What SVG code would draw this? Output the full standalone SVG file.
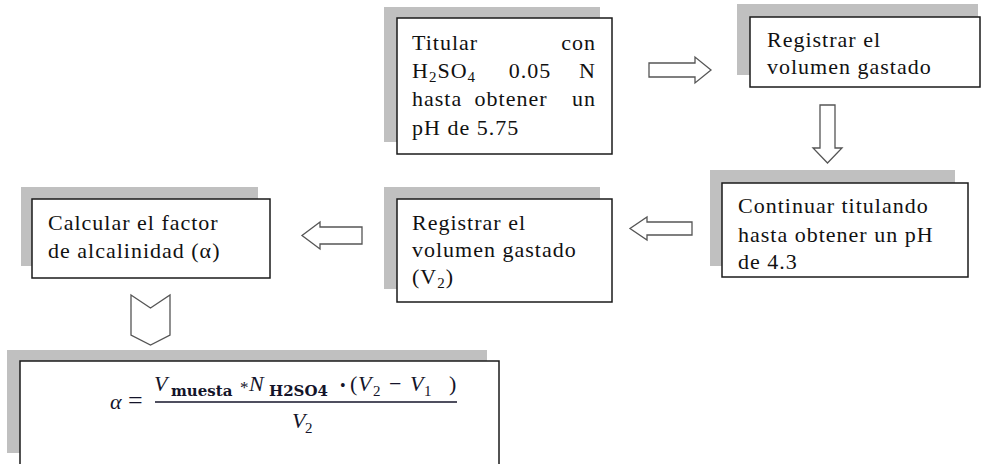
<svg xmlns="http://www.w3.org/2000/svg" width="981" height="464" viewBox="0 0 981 464">
  <style>
    .shadow { fill: #c0c0c0; }
    .box { fill: #ffffff; stroke: #1a1a1a; stroke-width: 1.5; }
    .txt { font-family: 'Liberation Serif', Tinos, 'Times New Roman', 'Nimbus Roman', 'DejaVu Serif', serif; font-size: 22px; letter-spacing: 1px; fill: #111111; }
    .sub { font-size: 15px; }
    .arrow { fill: #ffffff; stroke: #555555; stroke-width: 1.3; stroke-linejoin: miter; }
    .math { font-family: 'Liberation Serif', Tinos, 'Times New Roman', 'DejaVu Serif', serif; font-size: 22px; fill: #14142a; }
    .mi { font-style: italic; }
    .mb { font-weight: bold; font-size: 15px; font-family: 'DejaVu Serif', 'Liberation Serif', serif; }
  </style>

  <!-- step 1: titration to pH 5.75 -->
  <g id="titular">
    <rect class="shadow" x="384" y="7" width="216" height="135"/>
    <rect class="box" x="397" y="18" width="215" height="136"/>
    <text class="txt" x="412" y="50">Titular</text>
    <text class="txt" x="596" y="50" text-anchor="end">con</text>
    <text class="txt" x="412" y="78">H<tspan class="sub" dy="4">2</tspan><tspan dy="-4">SO</tspan><tspan class="sub" dy="4">4</tspan></text>
    <text class="txt" x="530" y="78" text-anchor="middle">0.05</text>
    <text class="txt" x="596" y="78" text-anchor="end">N</text>
    <text class="txt" x="412" y="106">hasta</text>
    <text class="txt" x="511" y="106" text-anchor="middle">obtener</text>
    <text class="txt" x="596" y="106" text-anchor="end">un</text>
    <text class="txt" x="412" y="135">pH de 5.75</text>
  </g>

  <!-- step 2: record volume -->
  <g id="registrar1">
    <rect class="shadow" x="737" y="4" width="241" height="71"/>
    <rect class="box" x="750" y="17" width="230" height="70"/>
    <text class="txt" x="767" y="47">Registrar el</text>
    <text class="txt" x="767" y="74">volumen gastado</text>
  </g>

  <!-- step 3: continue to pH 4.3 -->
  <g id="continuar">
    <rect class="shadow" x="710" y="170" width="245" height="96"/>
    <rect class="box" x="722" y="183" width="246" height="94"/>
    <text class="txt" x="738" y="213">Continuar titulando</text>
    <text class="txt" x="738" y="242">hasta obtener un pH</text>
    <text class="txt" x="738" y="269">de 4.3</text>
  </g>

  <!-- step 4: record V2 -->
  <g id="registrar2">
    <rect class="shadow" x="384" y="187" width="216" height="102"/>
    <rect class="box" x="397" y="199" width="215" height="103"/>
    <text class="txt" x="412" y="230">Registrar el</text>
    <text class="txt" x="412" y="257">volumen gastado</text>
    <text class="txt" x="412" y="284">(V<tspan class="sub" dy="4">2</tspan><tspan dy="-4">)</tspan></text>
  </g>

  <!-- step 5: compute alkalinity factor -->
  <g id="calcular">
    <rect class="shadow" x="21" y="187" width="237" height="79"/>
    <rect class="box" x="32" y="199" width="238" height="79"/>
    <text class="txt" x="48" y="230">Calcular el factor</text>
    <text class="txt" x="48" y="258">de alcalinidad (α)</text>
  </g>

  <!-- formula -->
  <g id="formula">
    <rect class="shadow" x="7" y="350" width="480" height="103"/>
    <rect class="box" x="20" y="361" width="479" height="112"/>
    <g class="math">
      <text class="mi" x="110" y="409">α</text>
      <text x="128" y="409" font-size="26">=</text>
      <text class="mi" x="154" y="391">V</text>
      <text class="mb" x="171" y="396">muesta</text>
      <text x="240" y="393" font-size="17">*</text>
      <text class="mi" x="249" y="391">N</text>
      <text class="mb" x="269" y="396">H2SO4</text>
      <text x="340" y="391" font-size="16">•</text>
      <text x="350" y="391">(</text>
      <text class="mi" x="358" y="391">V</text>
      <text x="373" y="396" font-size="15">2</text>
      <text x="389" y="391">−</text>
      <text class="mi" x="410" y="391">V</text>
      <text x="424" y="396" font-size="15">1</text>
      <text x="449" y="391">)</text>
      <line x1="155" y1="402" x2="457" y2="402" stroke="#14142a" stroke-width="1.3"/>
      <text class="mi" x="292" y="428">V</text>
      <text x="305" y="433" font-size="15">2</text>
    </g>
  </g>

  <!-- block arrows between steps -->
  <g id="connectors">
    <polygon class="arrow" points="649,63 695,63 695,57 711,70 695,83 695,77 649,77"/>
    <polygon class="arrow" points="820,105 835,105 835,148 842,148 827.5,163 813,148 820,148"/>
    <polygon class="arrow" points="692,222 647,222 647,217 630,228.5 647,240 647,235 692,235"/>
    <polygon class="arrow" points="362,227 320,227 320,222 302,235.5 320,249 320,244 362,244"/>
    <polygon class="arrow" points="131,295 150.5,308 170,295 170,335 150.5,345 131,335"/>
  </g>
</svg>
